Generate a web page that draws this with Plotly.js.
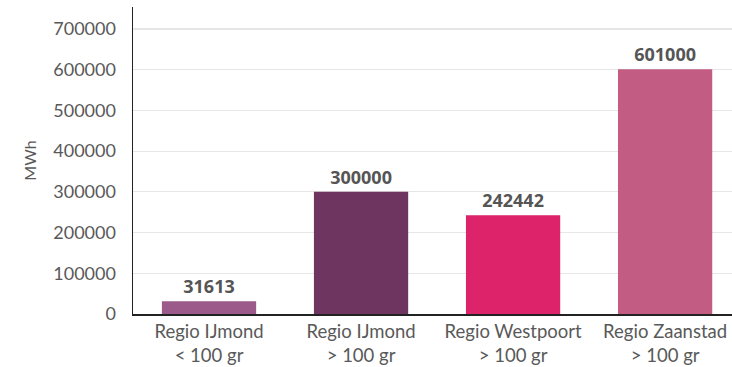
<!DOCTYPE html>
<html><head><meta charset="utf-8">
<script src="https://cdn.plot.ly/plotly-3.0.1.min.js"></script>
<style>html,body{margin:0;padding:0;background:#fff}#c{width:732px;height:367px}</style>
</head><body><div id="c"></div>
<script>
const categories = ["Regio IJmond<br>< 100 gr", "Regio IJmond<br>> 100 gr", "Regio Westpoort<br>> 100 gr", "Regio Zaanstad<br>> 100 gr"];
const values = [31613, 300000, 242442, 601000];
const barColors = ["#9B5A8A", "#6F3561", "#DD2369", "#C25C82"];
const yTicks = [0, 100000, 200000, 300000, 400000, 500000, 600000, 700000];

Plotly.newPlot("c", [{
  type: "bar",
  x: categories,
  y: values,
  marker: {color: barColors},
  text: values.map(String),
  textposition: "outside",
  cliponaxis: false,
  textfont: {family: "Open Sans", size: 18, color: "#555555", weight: 700},
  hoverinfo: "none"
}], {
  width: 732, height: 367,
  margin: {l: 133, r: 0, t: 7, b: 53},
  paper_bgcolor: "#fff", plot_bgcolor: "#fff",
  bargap: 0.38,
  showlegend: false,
  font: {family: "Lato", color: "#595959"},
  xaxis: {
    range: [-0.5, 3.44],
    showline: true, linecolor: "#222", linewidth: 1.5,
    ticks: "", tickfont: {family: "Lato", size: 18.5, color: "#595959"},
    showgrid: false, zeroline: false
  },
  yaxis: {
    range: [0, 754000],
    tickvals: yTicks, ticktext: yTicks.map(String),
    showline: true, linecolor: "#222", linewidth: 1.5,
    gridcolor: "#E6E6E6", gridwidth: 1.2,
    zeroline: false, ticks: "",
    ticklabelstandoff: 12,
    tickfont: {family: "Lato", size: 18, color: "#595959"},
    title: {text: "MWh", font: {family: "Lato", size: 16, color: "#595959"}, standoff: 12}
  }
}, {staticPlot: true});
</script></body></html>
